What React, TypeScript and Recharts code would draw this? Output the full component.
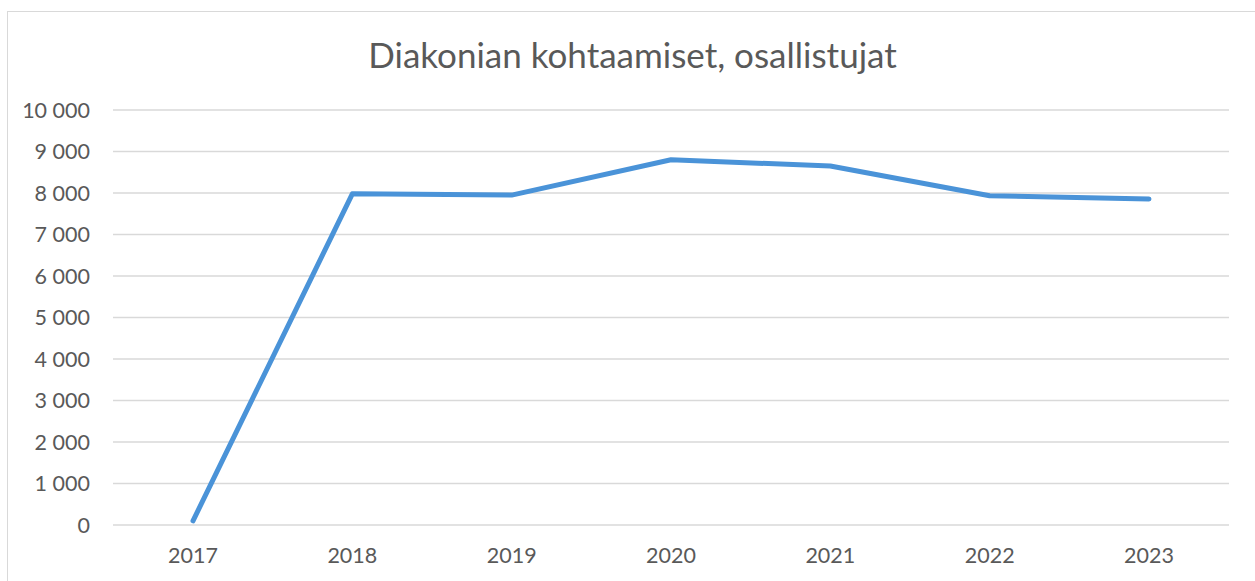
import { LineChart, Line, XAxis, YAxis, CartesianGrid } from 'recharts'

const years = ['2017', '2018', '2019', '2020', '2021', '2022', '2023']
const participants = [100, 7980, 7950, 8800, 8650, 7935, 7855]
const yTicks = [0, 1000, 2000, 3000, 4000, 5000, 6000, 7000, 8000, 9000, 10000]

const data = years.map((year, i) => ({ year, value: participants[i] }))

const TEXT = '#595959'
const GRID = '#d9d9d9'
const LINE = '#4a93d8'
const FONT = 'Lato, "Open Sans", sans-serif'

function formatThousands(v: number): string {
  return String(v).replace(/\B(?=(\d{3})+(?!\d))/g, ' ')
}

export default function App() {
  return (
    <div
      style={{
        position: 'absolute',
        left: 0,
        top: 0,
        width: 1255,
        height: 581,
        overflow: 'hidden',
        background: '#fff',
        fontFamily: FONT,
      }}
    >
      <div
        style={{
          position: 'absolute',
          left: 7,
          top: 11,
          width: 1400,
          height: 800,
          border: `1px solid ${GRID}`,
          boxSizing: 'border-box',
        }}
      />
      <div
        style={{
          position: 'absolute',
          left: 0,
          top: 32,
          width: 1265,
          textAlign: 'center',
          fontSize: 35,
          color: TEXT,
          lineHeight: '44px',
        }}
      >
        Diakonian kohtaamiset, osallistujat
      </div>
      <div style={{ position: 'absolute', left: 0, top: 0 }}>
        <LineChart
          width={1255}
          height={581}
          data={data}
          margin={{ top: 110, right: 26, bottom: 0, left: 0 }}
        >
          <CartesianGrid vertical={false} stroke={GRID} strokeWidth={1.5} />
          <XAxis
            dataKey="year"
            axisLine={false}
            tickLine={false}
            padding={{ left: 80, right: 80 }}
            tick={{ fill: TEXT, fontSize: 21.5, fontFamily: FONT }}
            tickMargin={17}
            height={56}
          />
          <YAxis
            domain={[0, 10000]}
            ticks={yTicks}
            tickFormatter={formatThousands}
            axisLine={false}
            tickLine={false}
            tick={{ fill: TEXT, fontSize: 21.5, fontFamily: FONT }}
            tickMargin={17}
            width={113}
            interval={0}
          />
          <Line
            type="linear"
            dataKey="value"
            stroke={LINE}
            strokeWidth={5}
            strokeLinecap="round"
            strokeLinejoin="round"
            dot={false}
            activeDot={false}
            isAnimationActive={false}
          />
        </LineChart>
      </div>
    </div>
  )
}
